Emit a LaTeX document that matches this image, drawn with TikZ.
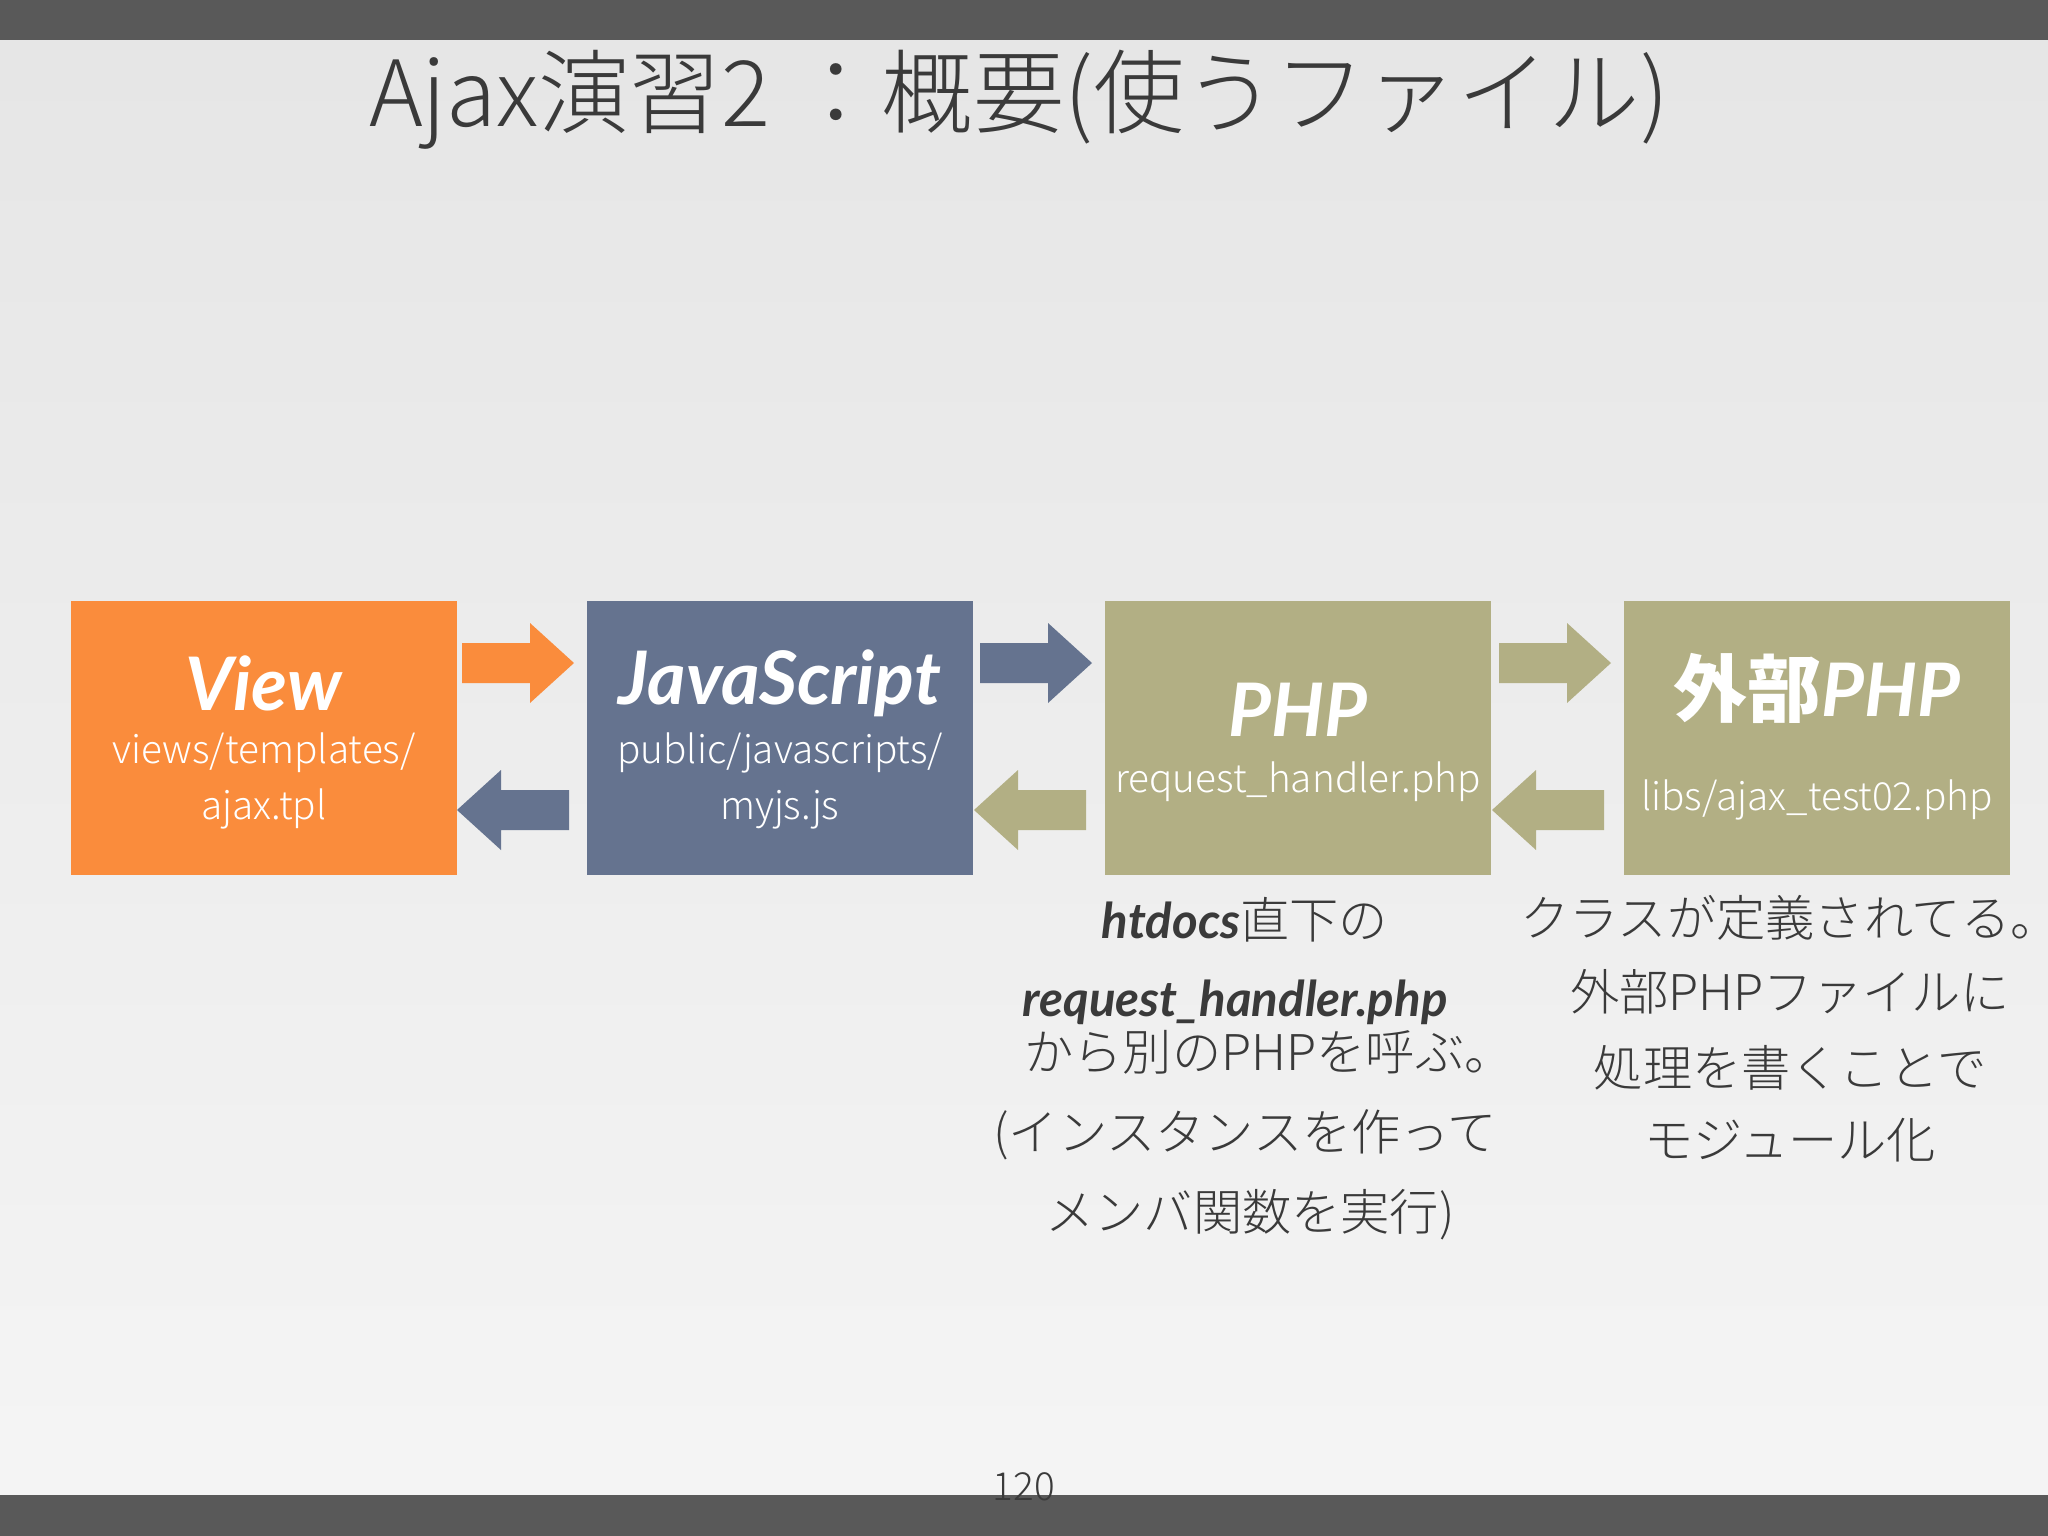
\documentclass[tikz,border=0pt]{standalone}
\usepackage{fontspec}
\setmainfont{Lato}
\newfontfamily\jp{Noto Sans CJK JP}
\newfontfamily\jpl{Noto Sans CJK JP Light}
\definecolor{vo}{HTML}{FA8C3C}
\definecolor{js}{HTML}{65738F}
\definecolor{ph}{HTML}{B2AF84}
\definecolor{tx}{HTML}{3A3A3A}
\tikzset{
 box/.style={minimum width=3.85cm,minimum height=2.74cm,inner sep=0,text=white,align=center},
 ttl/.style={font=\fontsize{21}{26}\selectfont\bfseries\itshape},
 sub/.style={font=\fontsize{11}{15}\selectfont\jpl},
 note/.style={text=tx,font=\fontsize{14}{20}\selectfont,align=center},
 pics/rar/.style={code={\fill (-56,-20) -- (12,-20) -- (12,-40) -- (56,0) -- (12,40) -- (12,20) -- (-56,20) -- cycle;}},
 pics/lar/.style={code={\fill (56,-20) -- (-12,-20) -- (-12,-40) -- (-56,0) -- (-12,40) -- (-12,20) -- (56,20) -- cycle;}}
}
\begin{document}
\begin{tikzpicture}[x=0.01cm,y=-0.01cm]
\shade[top color=black!10,bottom color=black!4] (0,0) rectangle (2048,1536);
\useasboundingbox (0,0) rectangle (2048,1536);
\fill[black!65] (0,0) rectangle (2048,40);
\fill[black!65] (0,1495) rectangle (2048,1536);
\node[text=tx,font=\fontsize{26}{32}\selectfont\jpl] (title) at (1019,100) {Ajax演習2\ ：概要(使うファイル)};
\node[box,fill=vo] (v) at (264,738) {};
\node[box,fill=js] (j) at (780,738) {};
\node[box,fill=ph] (p) at (1298,738) {};
\node[box,fill=ph] (e) at (1817,738) {};
\node[ttl,text=white] at (264,683) {View};
\node[sub,text=white,align=center] at (264,781) {views/templates/\\[1pt]ajax.tpl};
\node[ttl,text=white] at (780,683) {JavaScript};
\node[sub,text=white,align=center] at (780,781) {public/javascripts/\\[1pt]myjs.js};
\node[ttl,text=white] at (1298,710) {PHP};
\node[sub,text=white] at (1298,782) {request\_handler.php};
\node[ttl,text=white] at (1817,688) {{\jp 外部}PHP};
\node[sub,text=white] at (1817,800) {libs/ajax\_test02.php};
\pic[fill=vo] at (518,663) {rar};
\pic[fill=js] at (513,810) {lar};
\pic[fill=js] at (1036,663) {rar};
\pic[fill=ph] at (1030,810) {lar};
\pic[fill=ph] at (1555,663) {rar};
\pic[fill=ph] at (1548,810) {lar};
\node[note] (n1) at (1245,920) {\textbf{\itshape htdocs}{\jpl 直下の}};
\node[note] (n2) at (1235,1002) {\textbf{\itshape request\_handler.php}};
\node[note,anchor=west] (n3) at (1012,1052) {\jpl から別のPHPを呼ぶ。};
\node[note] (n4) at (1245,1135) {\jpl (インスタンスを作って};
\node[note] (n5) at (1250,1215) {\jpl メンバ関数を実行)};
\node[note] (m1) at (1790,918) {\jpl クラスが定義されてる。};
\node[note] (m2) at (1790,992) {\jpl 外部PHPファイルに};
\node[note] (m3) at (1790,1068) {\jpl 処理を書くことで};
\node[note] (m4) at (1790,1140) {\jpl モジュール化};
\node[text=tx,font=\fontsize{11}{14}\selectfont\jpl] (pg) at (1024,1487) {120};
\end{tikzpicture}
\end{document}
